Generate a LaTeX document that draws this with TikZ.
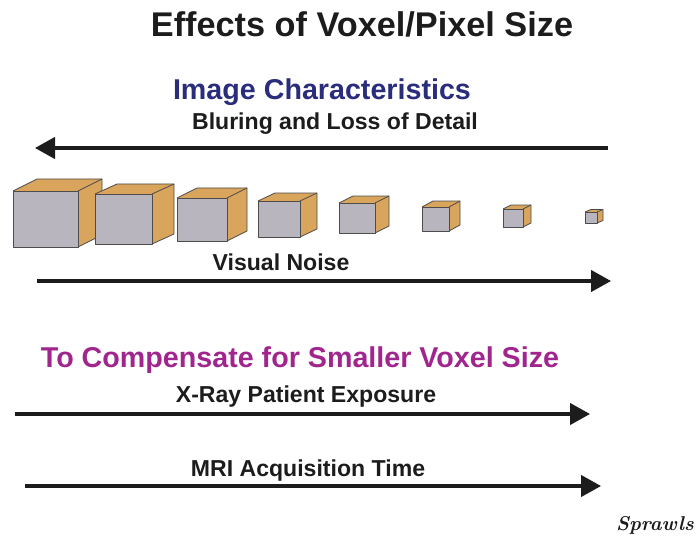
\documentclass[tikz,border=0pt]{standalone}
\usepackage{fontspec}
\setmainfont{Liberation Sans}
\usetikzlibrary{arrows.meta}
\definecolor{navy}{HTML}{2A2C7C}
\definecolor{magen}{HTML}{A0268E}
\definecolor{cubegray}{HTML}{B9B5BE}
\definecolor{cubeorange}{HTML}{D9A45C}
\definecolor{ink}{HTML}{1C1C1C}
\tikzset{
  lbl/.style={inner sep=0pt, anchor=base, font=\bfseries\fontsize{17.3}{20}\selectfont, text=ink},
  head/.style={inner sep=0pt, anchor=base, font=\bfseries\fontsize{21.5}{25}\selectfont},
  arr/.style={line width=2.4pt, draw=ink, -{Triangle[length=15pt,width=16pt]}},
  face/.style={draw=black!70, line width=0.6pt, line join=round},
}
\begin{document}
\begin{tikzpicture}[x=0.75pt,y=-0.75pt]
\useasboundingbox (0,0) rectangle (698,538);
% title and headings
\node[inner sep=0pt, anchor=base, font=\bfseries\fontsize{25.7}{30}\selectfont, text=ink] (title) at (362,37) {Effects of Voxel/Pixel Size};
\node[head, text=navy] (imgc) at (322,100) {Image Characteristics};
\node[lbl] (blur) at (335,130) {Bluring and Loss of Detail};
% cubes
\foreach \l/\t/\r/\b/\dx/\dy [count=\i] in {13/191/78/247/24/12, 95/194/152/244/22/10, 177/198/227/241/20/10, 258/201/300/237/17/8, 339/203/375/233/14/7, 422/207/449/231/11/6, 503/209/523/227/8/4, 585/212/597/223/6/2.5}{
  \fill[cubeorange] (\l,\t) -- ({\l+\dx},{\t-\dy}) -- ({\r+\dx},{\t-\dy}) -- ({\r+\dx},{\b-\dy}) -- (\r,\b) -- (\r,\t) -- cycle;
  \draw[face] (\l,\t) -- ({\l+\dx},{\t-\dy}) -- ({\r+\dx},{\t-\dy}) -- ({\r+\dx},{\b-\dy}) -- (\r,\b);
  \draw[face] (\r,\t) -- ({\r+\dx},{\t-\dy});
  \draw[face, fill=cubegray] (\l,\t) rectangle (\r,\b);
}
% arrow 1 (left)
\coordinate (a1s) at (608,148);
\coordinate (a1e) at (35,148);
\draw[arr] (a1s) -- (a1e);
\node[lbl] (noise) at (281,270) {Visual Noise};
\coordinate (a2s) at (37,281);
\coordinate (a2e) at (611,281);
\draw[arr] (a2s) -- (a2e);
% compensate
\node[head, text=magen] (comp) at (300,367) {To Compensate for Smaller Voxel Size};
\node[lbl] (xray) at (306,402) {X-Ray Patient Exposure};
\coordinate (a3s) at (15,414);
\coordinate (a3e) at (590,414);
\draw[arr] (a3s) -- (a3e);
\node[lbl] (mri) at (308,476) {MRI Acquisition Time};
\coordinate (a4s) at (25,486);
\coordinate (a4e) at (601,486);
\draw[arr] (a4s) -- (a4e);
% signature
\node[inner sep=0pt, anchor=base, font=\fontspec{Latin Modern Roman}\bfseries\itshape\fontsize{15}{18}\selectfont, text=ink] (sig) at (655,530) {Sprawls};
\end{tikzpicture}
\end{document}
